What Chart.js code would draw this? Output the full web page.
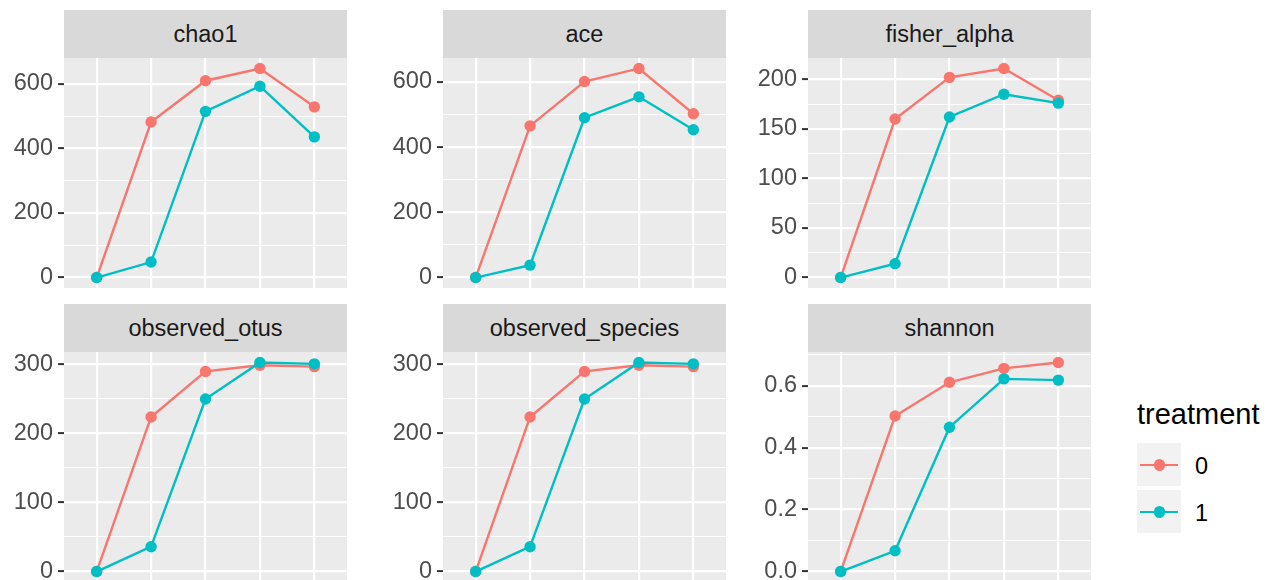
<!DOCTYPE html>
<html lang="en">
<head>
<meta charset="UTF-8">
<title>alpha diversity by treatment</title>
<script src="https://cdn.jsdelivr.net/npm/chart.js@4.4.1/dist/chart.umd.min.js"></script>
<style>
  body {
    margin: 0;
    width: 1273px;
    height: 580px;
    overflow: hidden;
    background: #fff;
    position: relative;
    font-family: 'Liberation Sans', Arial, sans-serif;
  }
  .strip {
    position: absolute;
    background: #d9d9d9;
    color: #1a1a1a;
    font-size: 23.5px;
    display: flex;
    align-items: center;
    justify-content: center;
  }
  .panel { position: absolute; }
  .legend-title {
    position: absolute;
    left: 1137px;
    top: 400px;
    font-size: 29px;
    line-height: 29px;
    color: #000;
  }
  .key {
    position: absolute;
    left: 1137px;
    width: 44px;
    height: 43px;
    background: #f2f2f2;
  }
  .key .ln {
    position: absolute;
    left: 3px;
    right: 3px;
    top: 20.5px;
    height: 2.4px;
  }
  .key .pt {
    position: absolute;
    left: 16.5px;
    top: 16px;
    width: 11.5px;
    height: 11.5px;
    border-radius: 50%;
  }
  .key-label {
    position: absolute;
    left: 1195px;
    height: 43px;
    line-height: 43px;
    font-size: 23.5px;
    color: #000;
  }
</style>
</head>
<body>
<div id="root"></div>
<div class="legend-title">treatment</div>
<div class="key" style="top:443px"><div class="ln" style="background:#F8766D"></div><div class="pt" style="background:#F8766D"></div></div>
<div class="key-label" style="top:445px">0</div>
<div class="key" style="top:490px"><div class="ln" style="background:#00BFC4"></div><div class="pt" style="background:#00BFC4"></div></div>
<div class="key-label" style="top:492px">1</div>

<script>
  // facet names and x positions (1..5)
  const metrics = ['chao1', 'ace', 'fisher_alpha', 'observed_otus', 'observed_species', 'shannon'];
  const steps = [1, 2, 3, 4, 5];
  const treatments = ['0', '1'];
  const colors = ['#F8766D', '#00BFC4'];

  // values, treatment 0 / treatment 1
  const chao1_0 = [0, 482, 610, 648, 529];
  const chao1_1 = [0, 48, 515, 593, 436];
  const ace_0 = [0, 465, 601, 641, 502];
  const ace_1 = [0, 38, 490, 554, 453];
  const fisher_0 = [0, 160, 202, 211, 179];
  const fisher_1 = [0, 14, 162, 185, 176];
  const otus_0 = [0, 224, 290, 299, 297];
  const otus_1 = [0, 36, 250, 303, 301];
  const species_0 = [0, 224, 290, 299, 297];
  const species_1 = [0, 36, 250, 303, 301];
  const shannon_0 = [0, 0.502, 0.611, 0.656, 0.675];
  const shannon_1 = [0, 0.067, 0.466, 0.622, 0.618];

  const series0 = [chao1_0, ace_0, fisher_0, otus_0, species_0, shannon_0];
  const series1 = [chao1_1, ace_1, fisher_1, otus_1, species_1, shannon_1];

  // y axis major tick step and label decimals per facet
  const majorStep = [200, 200, 50, 100, 100, 0.2];
  const tickDigits = [0, 0, 0, 0, 0, 1];

  // panel geometry
  const colLeft = [64, 443, 808];
  const panelW = 283;
  const axisW = 64;
  const stripTop = [10, 304];
  const stripH = 48;
  const plotTop = [58, 352];
  const plotH = 230;

  // grey panel background
  const panelBg = {
    id: 'panelBg',
    beforeDraw(chart) {
      const a = chart.chartArea;
      const ctx = chart.ctx;
      ctx.save();
      ctx.fillStyle = '#ebebeb';
      ctx.fillRect(a.left, a.top, a.right - a.left, a.bottom - a.top);
      ctx.restore();
    }
  };

  const root = document.getElementById('root');

  metrics.forEach((name, i) => {
    const col = i % 3;
    const row = Math.floor(i / 3);

    const strip = document.createElement('div');
    strip.className = 'strip';
    strip.style.left = colLeft[col] + 'px';
    strip.style.top = stripTop[row] + 'px';
    strip.style.width = panelW + 'px';
    strip.style.height = stripH + 'px';
    strip.textContent = name;
    root.appendChild(strip);

    const box = document.createElement('div');
    box.className = 'panel';
    box.style.left = (colLeft[col] - axisW) + 'px';
    box.style.top = plotTop[row] + 'px';
    const cv = document.createElement('canvas');
    cv.width = axisW + panelW;
    cv.height = plotH;
    box.appendChild(cv);
    root.appendChild(box);

    // ggplot style 5% expansion
    const all = series0[i].concat(series1[i]);
    const lo = Math.min(...all), hi = Math.max(...all);
    const pad = (hi - lo) * 0.05;
    const half = majorStep[i] / 2;
    const isMajor = v => Math.round(v / half) % 2 === 0;

    const mk = (vals, t) => ({
      label: treatments[t],
      data: steps.map((x, k) => ({ x: x, y: vals[k] })),
      borderColor: colors[t],
      backgroundColor: colors[t],
      borderWidth: 2.4,
      pointRadius: 5.7,
      pointBorderWidth: 0,
      pointHoverRadius: 5.7,
      tension: 0,
      clip: false,
      order: 1 - t
    });

    new Chart(cv, {
      type: 'line',
      data: { datasets: [mk(series0[i], 0), mk(series1[i], 1)] },
      options: {
        responsive: false,
        animation: false,
        events: [],
        layout: { padding: 0, autoPadding: false },
        plugins: { legend: { display: false }, tooltip: { enabled: false } },
        scales: {
          x: {
            type: 'linear',
            min: 0.4,
            max: 5.6,
            afterBuildTicks: s => { s.ticks = steps.map(v => ({ value: v })); },
            afterFit: s => { s.height = 0; s.paddingLeft = 0; s.paddingRight = 0; },
            ticks: { display: false },
            grid: { color: '#ffffff', lineWidth: 2.2, drawTicks: false },
            border: { display: false }
          },
          y: {
            type: 'linear',
            min: lo - pad,
            max: hi + pad,
            afterBuildTicks: s => {
              const t = [];
              for (let k = 0; k * half <= s.max + 1e-9; k++) t.push({ value: +(k * half).toFixed(6) });
              s.ticks = t;
            },
            afterFit: s => { s.width = axisW; s.paddingTop = 0; s.paddingBottom = 0; },
            ticks: {
              autoSkip: false,
              padding: 5,
              color: '#4d4d4d',
              font: { family: "'Liberation Sans', Arial, sans-serif", size: 23.5 },
              callback: v => isMajor(v) ? v.toFixed(tickDigits[i]) : ''
            },
            grid: {
              color: '#ffffff',
              lineWidth: c => isMajor(c.tick.value) ? 2.2 : 1.1,
              tickLength: 6,
              tickWidth: 2,
              tickColor: c => isMajor(c.tick.value) ? '#333333' : 'rgba(0,0,0,0)'
            },
            border: { display: false }
          }
        }
      },
      plugins: [panelBg]
    });
  });
</script>
</body>
</html>
